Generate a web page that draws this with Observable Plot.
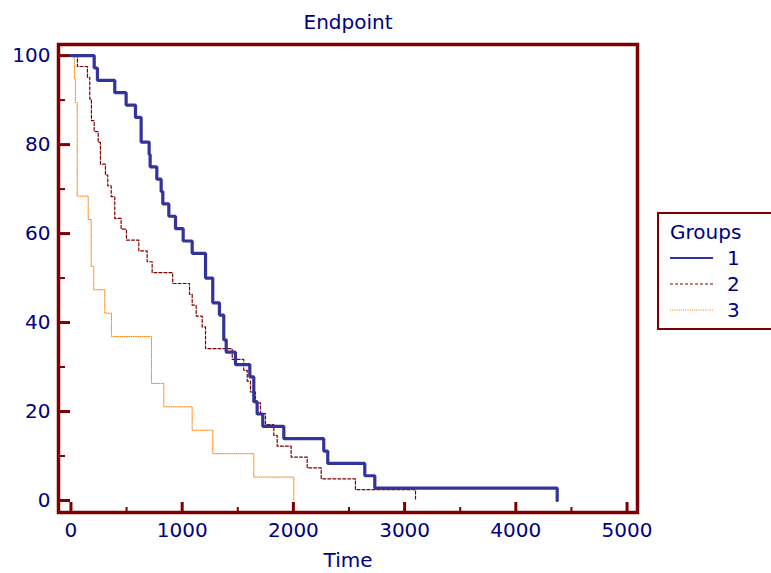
<!DOCTYPE html>
<html>
<head>
<meta charset="utf-8">
<script src="https://cdn.jsdelivr.net/npm/d3@7"></script>
<script src="https://cdn.jsdelivr.net/npm/@observablehq/plot@0.6"></script>
<style>
  html, body { margin: 0; padding: 0; background: #ffffff; }
  #wrap { position: relative; width: 771px; height: 573px; overflow: hidden; font-family: "DejaVu Sans", sans-serif; }
  #legend { position: absolute; left: 657px; top: 212px; width: 114px; height: 114px; border: 2px solid #7f0000; border-right: none; background: #fff; }
</style>
</head>
<body>
<div id="wrap"></div>
<script>
// ---- Data (Kaplan-Meier survival, %) ----
const groupNames = ["1", "2", "3"];

const g1Time = [0, 209, 238, 394, 496, 580, 631, 703, 712, 772, 811, 826, 880, 940, 1009, 1090, 1210, 1275, 1335, 1374, 1396, 1479, 1608, 1644, 1674, 1725, 1914, 2273, 2309, 2642, 2732, 4372];
const g1Surv = [100, 97.22, 94.44, 91.67, 88.89, 86.11, 80.56, 77.78, 75.0, 72.22, 69.44, 66.67, 63.89, 61.11, 58.33, 55.56, 50.0, 44.44, 41.67, 36.11, 33.33, 30.56, 27.78, 22.22, 19.44, 16.67, 13.89, 11.11, 8.33, 5.56, 2.78, 0];

const g2Time = [0, 58, 148, 169, 184, 209, 245, 265, 310, 331, 362, 394, 451, 499, 610, 685, 730, 915, 1066, 1090, 1126, 1180, 1210, 1450, 1554, 1585, 1614, 1659, 1704, 1749, 1824, 1854, 1980, 2124, 2250, 2558, 3098];
const g2Surv = [100, 97.56, 95.12, 90.24, 85.37, 82.93, 80.49, 75.61, 73.17, 70.73, 68.29, 63.41, 60.98, 58.54, 56.10, 53.66, 51.22, 48.78, 46.34, 43.90, 41.46, 39.02, 34.15, 31.71, 29.27, 26.83, 24.39, 21.95, 19.51, 17.07, 14.63, 12.20, 9.76, 7.32, 4.88, 2.44, 0];

const g3Time = [0, 31, 40, 56, 155, 182, 205, 304, 364, 724, 835, 1090, 1275, 1644, 2004];
const g3Surv = [100, 94.74, 89.47, 68.42, 63.16, 52.63, 47.37, 42.11, 36.84, 26.32, 21.05, 15.79, 10.53, 5.26, 0];

const xMajorTicks = [0, 1000, 2000, 3000, 4000, 5000];
const xMinorTicks = [500, 1500, 2500, 3500, 4500];
const yMajorTicks = [0, 20, 40, 60, 80, 100];
const yMinorTicks = [10, 30, 50, 70, 90];

const titleText = "Endpoint";
const xLabel = "Time";
const legendTitle = "Groups";

// ---- Build tables ----
const toRows = (t, s) => t.map((d, i) => ({time: d, surv: s[i]}));
const g1 = toRows(g1Time, g1Surv);
const g2 = toRows(g2Time, g2Surv);
const g3 = toRows(g3Time, g3Surv);

const W = 771, H = 573;
const mL = 58, mR = 134, mT = 44, mB = 61;
const pw = W - mL - mR, ph = H - mT - mB;

const fontFam = "'DejaVu Sans', sans-serif";
const frameColor = "#7f0000";
const textColor = "#000080";
const styles = {
  "1": {stroke: "#333399", strokeWidth: 3.2, dash: null},
  "2": {stroke: "#800000", strokeWidth: 1.2, dash: "3,2"},
  "3": {stroke: "#ff8000", strokeWidth: 1, dash: "1,1.2"}
};

const chart = Plot.plot({
  width: W, height: H,
  marginLeft: mL, marginRight: mR, marginTop: mT, marginBottom: mB,
  x: {domain: [-112, 5094]},
  y: {domain: [-2.7, 102.5]},
  style: {fontFamily: fontFam, fontSize: "20px", background: "#ffffff", color: textColor, overflow: "visible"},
  marks: [
    Plot.line(g3, {x: "time", y: "surv", curve: "step-after", stroke: styles["3"].stroke, strokeWidth: styles["3"].strokeWidth, strokeDasharray: styles["3"].dash}),
    Plot.line(g2, {x: "time", y: "surv", curve: "step-after", stroke: styles["2"].stroke, strokeWidth: styles["2"].strokeWidth, strokeDasharray: styles["2"].dash}),
    Plot.line(g1, {x: "time", y: "surv", curve: "step-after", stroke: styles["1"].stroke, strokeWidth: styles["1"].strokeWidth, strokeLinejoin: "miter"}),
    // inward ticks
    Plot.ruleX(xMajorTicks, {x: d => d, insetTop: ph - 10, stroke: frameColor, strokeWidth: 3}),
    Plot.ruleX(xMinorTicks, {x: d => d, insetTop: ph - 5, stroke: frameColor, strokeWidth: 2}),
    Plot.ruleY(yMajorTicks, {y: d => d, insetRight: pw - 12, stroke: frameColor, strokeWidth: 3}),
    Plot.ruleY(yMinorTicks, {y: d => d, insetRight: pw - 7, stroke: frameColor, strokeWidth: 2}),
    Plot.frame({stroke: frameColor, strokeWidth: 3.5}),
    Plot.axisX(xMajorTicks, {tickSize: 0, tickPadding: 10, fontSize: 20, fill: textColor, label: null, tickFormat: d => String(d)}),
    Plot.axisY(yMajorTicks, {tickSize: 0, tickPadding: 8, fontSize: 20, fill: textColor, label: null, tickFormat: d => String(d)}),
    Plot.text([titleText], {text: d => d, frameAnchor: "top", lineAnchor: "middle", dy: -22, fontSize: 20, fill: textColor}),
    Plot.text([xLabel], {text: d => d, frameAnchor: "bottom", lineAnchor: "middle", dy: 48, fontSize: 20, fill: textColor})
  ]
});

const wrap = document.getElementById("wrap");
wrap.appendChild(chart);

// ---- Legend (HTML overlay) ----
const legend = document.createElement("div");
legend.id = "legend";
const ns = "http://www.w3.org/2000/svg";
const lsvg = document.createElementNS(ns, "svg");
lsvg.setAttribute("width", 114);
lsvg.setAttribute("height", 114);
const t0 = document.createElementNS(ns, "text");
t0.setAttribute("x", 11); t0.setAttribute("y", 25);
t0.setAttribute("fill", textColor);
t0.setAttribute("font-size", "20");
t0.setAttribute("font-family", fontFam);
t0.textContent = legendTitle;
lsvg.appendChild(t0);
groupNames.forEach((g, i) => {
  const y = 44 + i * 26;
  const ln = document.createElementNS(ns, "line");
  ln.setAttribute("x1", 11); ln.setAttribute("x2", 54);
  ln.setAttribute("y1", y); ln.setAttribute("y2", y);
  ln.setAttribute("stroke", styles[g].stroke);
  ln.setAttribute("stroke-width", g === "1" ? 2 : styles[g].strokeWidth);
  if (styles[g].dash) ln.setAttribute("stroke-dasharray", styles[g].dash);
  lsvg.appendChild(ln);
  const tx = document.createElementNS(ns, "text");
  tx.setAttribute("x", 68); tx.setAttribute("y", y + 7);
  tx.setAttribute("fill", textColor);
  tx.setAttribute("font-size", "20");
  tx.setAttribute("font-family", fontFam);
  tx.textContent = g;
  lsvg.appendChild(tx);
});
legend.appendChild(lsvg);
wrap.appendChild(legend);
</script>
</body>
</html>
